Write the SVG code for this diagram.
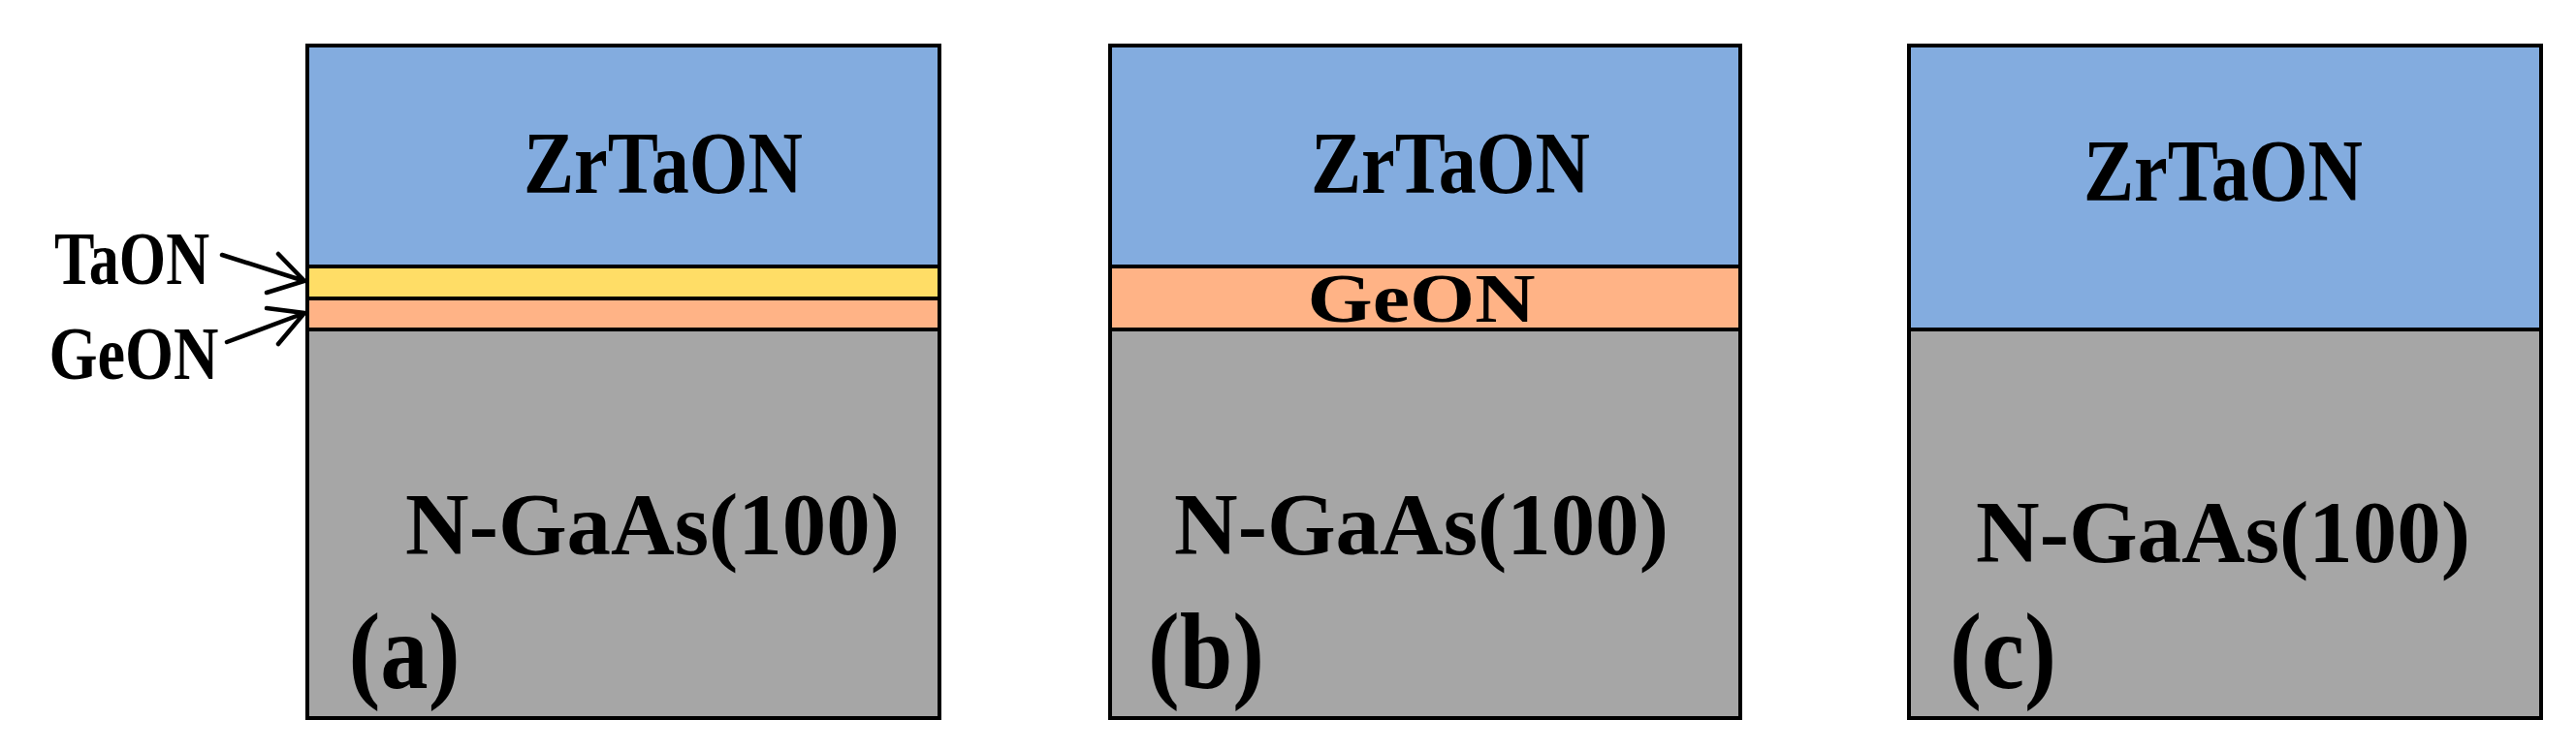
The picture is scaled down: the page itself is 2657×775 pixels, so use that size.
<svg xmlns="http://www.w3.org/2000/svg" width="2657" height="775" viewBox="0 0 2657 775">
<style>
.t{font-family:"Liberation Serif",serif;font-weight:bold;fill:#000;text-anchor:middle}
.b{stroke:#000;stroke-width:4}
.c{fill:none;stroke:#000;stroke-width:4.5;stroke-linecap:round}
</style>
<rect width="2657" height="775" fill="#fff"/>
<g id="panel-a">
<rect class="b" x="317" y="47" width="652" height="228" fill="#83ACDF"/>
<rect class="b" x="317" y="275" width="652" height="33" fill="#FFDD66"/>
<rect class="b" x="317" y="308" width="652" height="32" fill="#FFB386"/>
<rect class="b" x="317" y="340" width="652" height="401" fill="#A6A6A6"/>
<text class="t" x="684" y="199" font-size="90" textLength="288" lengthAdjust="spacingAndGlyphs">ZrTaON</text>
<text class="t" x="673" y="572" font-size="90" textLength="510" lengthAdjust="spacingAndGlyphs">N-GaAs(100)</text>
<text class="t" x="417" y="710" font-size="112" textLength="115" lengthAdjust="spacingAndGlyphs">(a)</text>
<text class="t" x="136" y="293" font-size="78" textLength="160" lengthAdjust="spacingAndGlyphs">TaON</text>
<text class="t" x="138" y="391" font-size="78" textLength="175" lengthAdjust="spacingAndGlyphs">GeON</text>
</g>
<g id="panel-b">
<rect class="b" x="1145" y="47" width="650" height="228" fill="#83ACDF"/>
<rect class="b" x="1145" y="275" width="650" height="65" fill="#FFB386"/>
<rect class="b" x="1145" y="340" width="650" height="401" fill="#A6A6A6"/>
<text class="t" x="1496" y="199" font-size="90" textLength="288" lengthAdjust="spacingAndGlyphs">ZrTaON</text>
<text class="t" x="1466" y="332" font-size="72" textLength="235" lengthAdjust="spacingAndGlyphs">GeON</text>
<text class="t" x="1466" y="572" font-size="90" textLength="510" lengthAdjust="spacingAndGlyphs">N-GaAs(100)</text>
<text class="t" x="1244" y="710" font-size="112" textLength="120" lengthAdjust="spacingAndGlyphs">(b)</text>
</g>
<g id="panel-c">
<rect class="b" x="1969" y="47" width="652" height="293" fill="#83ACDF"/>
<rect class="b" x="1969" y="340" width="652" height="401" fill="#A6A6A6"/>
<text class="t" x="2293" y="207" font-size="90" textLength="288" lengthAdjust="spacingAndGlyphs">ZrTaON</text>
<text class="t" x="2293" y="580" font-size="90" textLength="510" lengthAdjust="spacingAndGlyphs">N-GaAs(100)</text>
<text class="t" x="2066" y="710" font-size="112" textLength="110" lengthAdjust="spacingAndGlyphs">(c)</text>
</g>
<g id="connectors">
<path class="c" d="M229 263 L314 290 M287 262 L314 290 L275 302"/>
<path class="c" d="M234 353 L314 323 M275 318 L314 323 L287 355"/>
</g>
</svg>
